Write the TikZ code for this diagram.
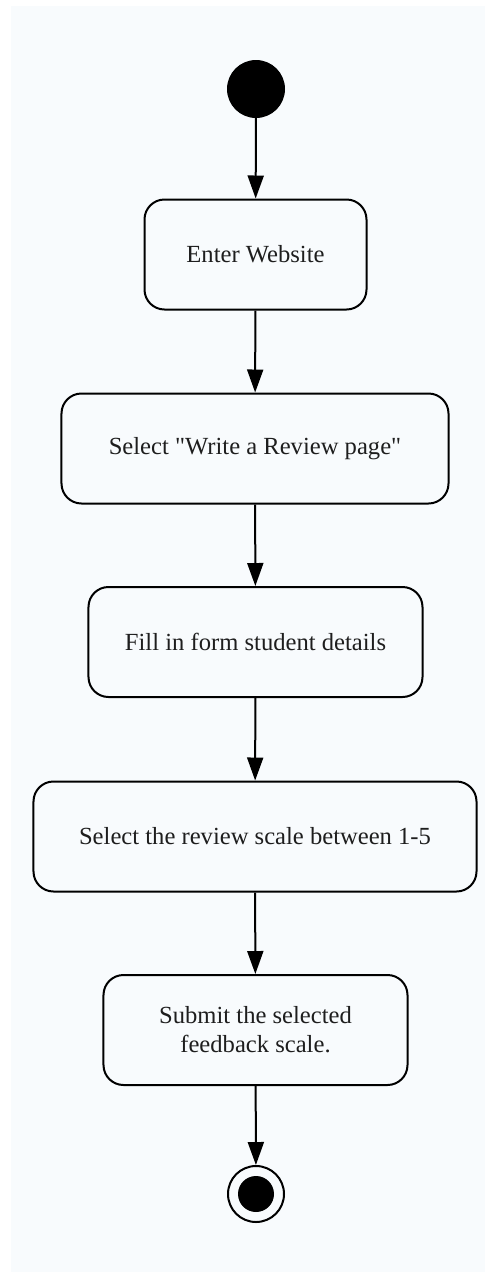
\documentclass[tikz,border=0pt]{standalone}
\usepackage{fontspec}
\setmainfont{Liberation Serif}[Ligatures=TeXOff]
\usetikzlibrary{arrows.meta}
\definecolor{bgpale}{RGB}{248,251,253}
\definecolor{txt}{RGB}{30,30,30}
\begin{document}
\begin{tikzpicture}[x=1bp,y=-1bp,
  act/.style={draw, line width=2bp, rounded corners=20bp, minimum height=110bp,
    align=center, inner sep=0pt, font=\fontsize{24.7}{29}\selectfont, text=txt},
  flow/.style={-{Triangle[width=16bp,length=23bp]}, line width=2bp}]
\useasboundingbox (0,0) rectangle (485,1272);
\fill[bgpale] (11,6) rectangle (485,1272);
\node[circle, fill=black, minimum size=58bp, inner sep=0pt] (start) at (256,89) {};
\node[act, minimum width=222bp] (b1) at (255.5,254.5) {Enter Website};
\node[act, minimum width=387bp] (b2) at (255,448.5) {Select "Write a Review page"};
\node[act, minimum width=334bp] (b3) at (255.5,642) {Fill in form student details};
\node[act, minimum width=443bp] (b4) at (255,836.5) {Select the review scale between 1-5};
\node[act, minimum width=304bp] (b5) at (255.5,1030) {Submit the selected\\feedback scale.};
\node[circle, draw, line width=2bp, minimum size=56bp, inner sep=0pt] (end) at (256,1194) {};
\fill (end.center) circle (18bp);
\draw[flow] (start) -- (b1);
\draw[flow] (b1) -- (b2);
\draw[flow] (b2) -- (b3);
\draw[flow] (b3) -- (b4);
\draw[flow] (b4) -- (b5);
\draw[flow] (b5) -- (end);
\end{tikzpicture}
\end{document}
